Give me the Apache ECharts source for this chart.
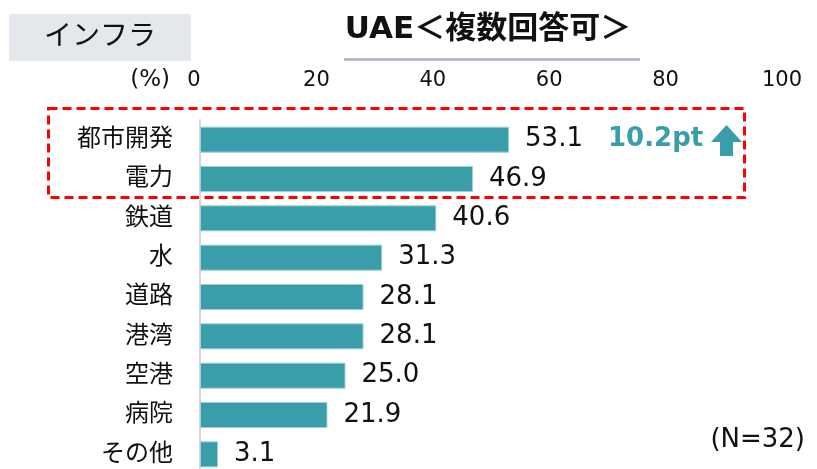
<!DOCTYPE html>
<html>
<head>
<meta charset="utf-8">
<script src="https://cdn.jsdelivr.net/npm/echarts@6/dist/echarts.min.js"></script>
<style>
  html, body { margin: 0; padding: 0; background: #fff; }
  #chart { width: 817px; height: 469px; }
</style>
</head>
<body>
<div id="chart"></div>
<script>
// Infrastructure sectors of interest (multiple answers), UAE
const categories = ['都市開発', '電力', '鉄道', '水', '道路', '港湾', '空港', '病院', 'その他'];
const shares = [53.1, 46.9, 40.6, 31.3, 28.1, 28.1, 25.0, 21.9, 3.1];
const axisTicks = [0, 20, 40, 60, 80, 100];

const sectionLabel = 'インフラ';
const titleText = 'UAE＜複数回答可＞';
const unitText = '(%)';
const changeText = '10.2pt';
const sampleText = '(N=32)';

const FONT = '"DejaVu Sans", "Noto Sans CJK JP", sans-serif';
const TEAL = '#399eaa';

const chart = echarts.init(document.getElementById('chart'));

chart.setOption({
  animation: false,
  textStyle: { fontFamily: FONT },
  grid: { left: 200, top: 120, width: 582, height: 354, containLabel: false, outerBoundsMode: 'none' },
  xAxis: {
    type: 'value',
    position: 'top',
    min: axisTicks[0],
    max: axisTicks[axisTicks.length - 1],
    interval: axisTicks[1] - axisTicks[0],
    axisLine: { show: false },
    axisTick: { show: false },
    splitLine: { show: false },
    axisLabel: {
      margin: 29,
      fontSize: 21,
      color: '#111',
      fontFamily: FONT,
      formatter: v => v === 0 ? '{z|0}' : String(v),
      rich: { z: { fontSize: 21, color: '#111', fontFamily: FONT, padding: [0, 12, 0, 0] } }
    }
  },
  yAxis: {
    type: 'category',
    inverse: true,
    data: categories,
    axisLine: { show: true, lineStyle: { color: '#d6d6d6', width: 2 } },
    axisTick: { show: false },
    axisLabel: { margin: 27, fontSize: 24, color: '#111', fontFamily: FONT }
  },
  series: [{
    type: 'bar',
    data: shares,
    barWidth: 26,
    itemStyle: { color: TEAL, borderColor: '#9fd0d6', borderWidth: 1 },
    label: {
      show: true,
      position: 'right',
      distance: 16,
      fontSize: 26,
      color: '#111',
      fontFamily: FONT,
      formatter: p => p.value.toFixed(1)
    }
  }],
  graphic: [
    { type: 'rect', shape: { x: 9, y: 14, width: 182, height: 47 }, style: { fill: '#e4e8ed' } },
    { type: 'text', x: 100, y: 38, style: { text: sectionLabel, font: '28px ' + FONT, fill: '#111', textAlign: 'center', textVerticalAlign: 'middle' } },
    { type: 'text', x: 488, y: 30, style: { text: titleText, font: 'bold 31px ' + FONT, fill: '#111', textAlign: 'center', textVerticalAlign: 'middle' } },
    { type: 'line', shape: { x1: 344, y1: 59.5, x2: 640, y2: 59.5 }, style: { stroke: '#a7b1c3', lineWidth: 2.5 } },
    { type: 'text', x: 170, y: 80, style: { text: unitText, font: '23px ' + FONT, fill: '#111', textAlign: 'right', textVerticalAlign: 'middle' } },
    { type: 'rect', shape: { x: 48.5, y: 108.5, width: 696, height: 89 }, style: { fill: 'none', stroke: '#ff0000', lineWidth: 3, lineDash: [9, 5] } },
    { type: 'text', x: 608, y: 139, style: { text: changeText, font: 'bold 26px ' + FONT, fill: TEAL, textAlign: 'left', textVerticalAlign: 'middle' } },
    { type: 'polygon', shape: { points: [[726.5, 125], [742, 142], [733, 142], [733, 156], [720, 156], [720, 142], [711, 142]] }, style: { fill: TEAL } },
    { type: 'text', x: 805, y: 440, style: { text: sampleText, font: '26px ' + FONT, fill: '#111', textAlign: 'right', textVerticalAlign: 'middle' } }
  ]
});
</script>
</body>
</html>
